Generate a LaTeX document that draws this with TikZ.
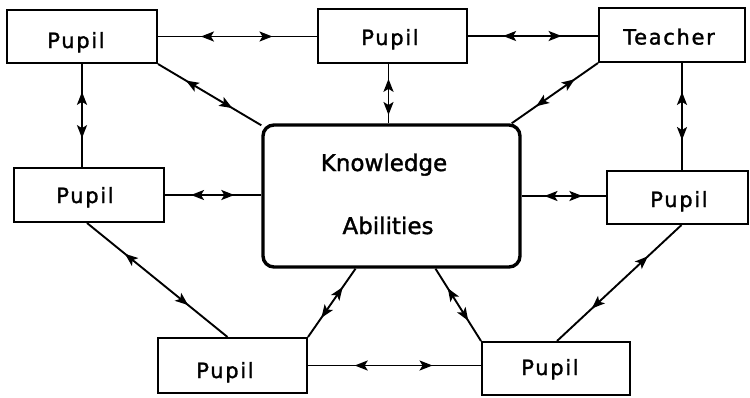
\documentclass[tikz,border=0pt]{standalone}
\usepackage{fontspec}
\newfontfamily\lab[LetterSpace=8,FakeBold=1.5]{DejaVu Sans}
\newfontfamily\biglab[FakeBold=1.5]{DejaVu Sans}
\usetikzlibrary{arrows.meta,decorations.markings,calc}
\tikzset{
  box/.style={draw, line width=2pt, rectangle, inner sep=0pt},
  bigbox/.style={draw, line width=3.4pt, rectangle, rounded corners=11pt, inner sep=0pt},
  txt/.style={anchor=base, inner sep=0pt, font=\lab\fontsize{21}{21}\selectfont},
  bigtxt/.style={anchor=base, inner sep=0pt, font=\biglab\fontsize{23}{23}\selectfont},
  tip/.tip={Stealth[length=13pt,width=10pt,inset=3pt]},
  bothwayat/.style 2 args={line width=1.9pt, postaction={decorate},
    decoration={markings,
      mark=at position #1 with {\arrowreversed{tip}},
      mark=at position #2 with {\arrow{tip}}}},
  bothway/.style={bothwayat={0.27}{0.72}}
}
\begin{document}
\begin{tikzpicture}[x=1pt,y=-1pt]
\useasboundingbox[fill=white] (0,0) rectangle (750,397);
% boxes
\node[box, minimum width=150pt, minimum height=53pt] (tl) at (82,36.5) {};
\node[box, minimum width=149pt, minimum height=54pt] (tm) at (392.5,36) {};
\node[box, minimum width=146pt, minimum height=54pt] (te) at (672,35) {};
\node[box, minimum width=150pt, minimum height=54pt] (lm) at (89,195) {};
\node[box, minimum width=141pt, minimum height=53pt] (rp) at (677.5,197.5) {};
\node[box, minimum width=149pt, minimum height=55pt] (bl) at (232.5,365.5) {};
\node[box, minimum width=148pt, minimum height=53pt] (br) at (556,368.5) {};
\node[bigbox, minimum width=257pt, minimum height=142pt] (kb) at (391.5,196) {};
% texts
\node[txt] (ttl) at (76,48) {Pupil};
\node[txt] (ttm) at (390,45) {Pupil};
\node[txt] (tte) at (669,44.5) {Teacher};
\node[txt] (tlm) at (85,203) {Pupil};
\node[txt] (trp) at (679,207) {Pupil};
\node[txt] (tbl) at (225,378) {Pupil};
\node[txt] (tbr) at (550,375) {Pupil};
\node[bigtxt] (tk) at (384,171) {Knowledge};
\node[bigtxt] (ta) at (388,234) {Abilities};
% connectors
\draw[bothway] (tl.east) -- (tl.east -| tm.west);
\draw[bothway] (tm.east) -- (tm.east -| te.west);
\draw[bothway] (tl.south) -- (tl.south |- lm.north);
\draw[bothway] (tl.south east) -- ($(kb.north west)+(0,2)$);
\draw[bothwayat={0.25}{0.86}] ($(tm.south)+(-4,0)$) -- ($(tm.south |- kb.north)+(-4,0)$);
\draw[bothway] (te.south west) -- ($(kb.north east)+(-10,0)$);
\draw[bothway] ($(te.south)+(10,0)$) -- ($(te.south |- rp.north)+(10,0)$);
\draw[bothway] (lm.east) -- (lm.east -| kb.west);
\draw[bothway] (kb.east) -- (kb.east -| rp.west);
\draw[bothway] ($(lm.south)+(-2,0)$) -- ($(bl.north)+(-5,0)$);
\draw[bothway] ($(kb.south)+(-36,0)$) -- (bl.north east);
\draw[bothway] ($(kb.south)+(44,0)$) -- (br.north west);
\draw[bothway] (bl.east) -- (bl.east -| br.west);
\draw[bothway] ($(rp.south)+(4,0)$) -- ($(br.north)+(1,0)$);
\end{tikzpicture}
\end{document}
